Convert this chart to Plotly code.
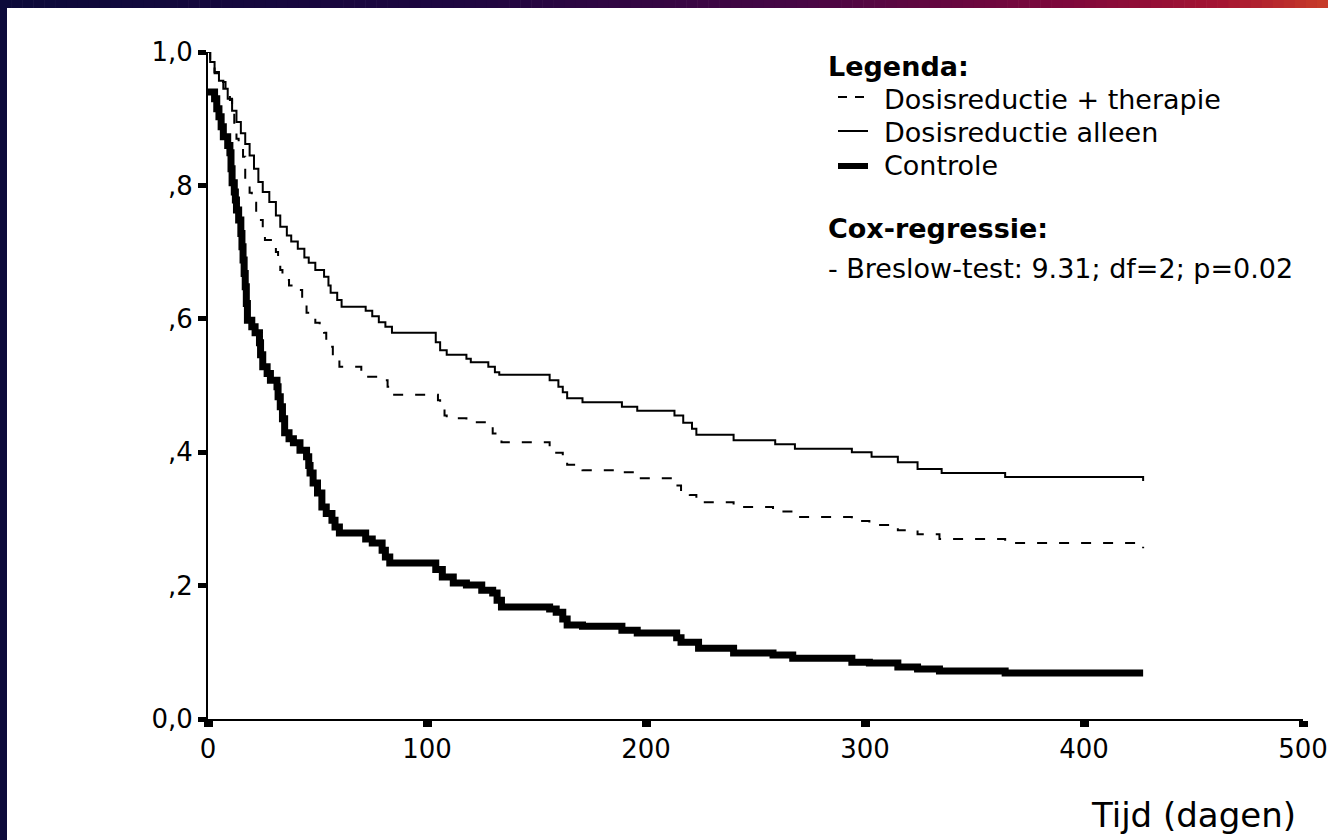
import plotly.graph_objects as go

# ---------------- data ----------------
series_names = ["Dosisreductie + therapie", "Dosisreductie alleen", "Controle"]

therapy_t = [0, 1, 3, 5, 8, 10, 11, 12, 13, 14, 16, 17, 19, 20, 22, 23, 25, 26, 30, 31,
             32, 33, 34, 37, 39, 43, 45, 47, 49, 51, 53, 54, 57, 60, 70, 72, 80, 82, 84,
             105, 106, 108, 109, 118, 127, 130, 132, 134, 156, 159, 162, 164, 171, 188,
             196, 213, 216, 220, 223, 240, 258, 267, 294, 302, 315, 324, 334, 364, 427]
therapy_s = [1.000, 0.985, 0.968, 0.955, 0.945, 0.928, 0.910, 0.888, 0.870, 0.858, 0.843,
             0.804, 0.789, 0.774, 0.760, 0.748, 0.733, 0.718, 0.714, 0.700, 0.688, 0.673,
             0.658, 0.650, 0.643, 0.628, 0.609, 0.601, 0.594, 0.586, 0.579, 0.558, 0.543,
             0.528, 0.518, 0.513, 0.508, 0.498, 0.486, 0.478, 0.466, 0.455, 0.451, 0.445,
             0.438, 0.428, 0.420, 0.415, 0.408, 0.399, 0.390, 0.381, 0.373, 0.370, 0.361,
             0.350, 0.340, 0.336, 0.325, 0.318, 0.311, 0.303, 0.297, 0.291, 0.283, 0.277,
             0.270, 0.264, 0.256]

alone_t = [0, 1, 3, 5, 7, 9, 11, 13, 15, 17, 19, 21, 23, 25, 28, 31, 33, 36, 38, 41, 44,
           46, 49, 53, 55, 56, 59, 61, 72, 75, 78, 81, 84, 104, 106, 109, 118, 120, 128,
           131, 133, 156, 160, 162, 164, 171, 189, 196, 213, 217, 221, 223, 240, 259, 268,
           294, 303, 315, 324, 335, 364, 427]
alone_s = [1.000, 0.985, 0.970, 0.957, 0.945, 0.930, 0.912, 0.895, 0.878, 0.862, 0.845,
           0.825, 0.805, 0.790, 0.775, 0.755, 0.738, 0.725, 0.716, 0.705, 0.692, 0.684,
           0.673, 0.663, 0.650, 0.639, 0.628, 0.618, 0.612, 0.604, 0.595, 0.588, 0.579,
           0.565, 0.553, 0.546, 0.540, 0.535, 0.528, 0.520, 0.516, 0.508, 0.498, 0.490,
           0.481, 0.475, 0.468, 0.462, 0.455, 0.444, 0.435, 0.426, 0.418, 0.412, 0.405,
           0.400, 0.393, 0.385, 0.375, 0.369, 0.363, 0.357]

control_t = [0, 3, 4, 5, 6, 7, 9, 10, 10.5, 11, 12, 12.5, 13, 14, 15, 15.5, 16, 16.5, 17,
             17.5, 18, 20, 21.5, 23.5, 24, 25, 27, 28.5, 31.5, 32, 33, 34, 35, 37, 39, 42,
             45, 46, 46.6, 48, 50, 52, 54, 56.6, 58, 60, 72, 75, 79.5, 81, 83, 104, 107,
             112, 118, 125, 130, 132, 134, 156, 159, 162, 164, 171, 189, 196, 214, 216, 224,
             240, 258, 267, 294, 302, 315, 324, 334, 364, 427]
control_s = [0.940, 0.930, 0.915, 0.903, 0.888, 0.873, 0.860, 0.849, 0.825, 0.804, 0.790,
             0.778, 0.763, 0.748, 0.728, 0.708, 0.688, 0.668, 0.648, 0.623, 0.598, 0.588,
             0.579, 0.564, 0.546, 0.528, 0.518, 0.508, 0.498, 0.483, 0.468, 0.450, 0.429,
             0.420, 0.414, 0.403, 0.393, 0.380, 0.369, 0.354, 0.339, 0.318, 0.308, 0.298,
             0.288, 0.279, 0.270, 0.264, 0.253, 0.243, 0.234, 0.224, 0.213, 0.204, 0.201,
             0.193, 0.189, 0.178, 0.168, 0.165, 0.160, 0.150, 0.141, 0.139, 0.133, 0.129,
             0.122, 0.115, 0.106, 0.099, 0.096, 0.091, 0.085, 0.084, 0.078, 0.075, 0.072,
             0.069, 0.069]

x_tickvals = [0, 100, 200, 300, 400, 500]
x_ticktext = ["0", "100", "200", "300", "400", "500"]
y_tickvals = [0.0, 0.2, 0.4, 0.6, 0.8, 1.0]
y_ticktext = ["0,0", ",2", ",4", ",6", ",8", "1,0"]

x_title = "Tijd (dagen)"
legend_title = "Legenda:"
cox_title = "Cox-regressie:"
cox_text = "- Breslow-test: 9.31; df=2; p=0.02"

# ---------------- figure ----------------
W, H = 1328, 840
ML, MR, MT, MB = 208, 25, 52, 121
FONT = "DejaVu Sans"

line_styles = [dict(shape="hv", color="black", width=2, dash="10px,12px"),
               dict(shape="hv", color="black", width=2),
               dict(shape="hv", color="black", width=7)]

fig = go.Figure()
for name, xs, ys, ls in zip(series_names, [therapy_t, alone_t, control_t],
                            [therapy_s, alone_s, control_s], line_styles):
    fig.add_trace(go.Scatter(x=xs, y=ys, name=name, mode="lines", line=ls,
                             showlegend=False))

pw, ph = W - ML - MR, H - MT - MB


def px_x(px):
    return (px - ML) / pw


def px_y(py):
    return (H - MB - py) / ph


shapes = []
# left dark band
shapes.append(dict(type="rect", xref="paper", yref="paper", x0=px_x(0), x1=px_x(7),
                   y0=px_y(H), y1=px_y(0), line=dict(width=0), fillcolor="rgb(12,10,58)",
                   layer="below"))
# top gradient band
stops = [(0.0, (12, 10, 58)), (0.35, (30, 6, 64)), (0.6, (70, 6, 68)),
         (0.8, (125, 8, 60)), (0.92, (165, 20, 50)), (1.0, (200, 60, 40))]


def interp(f):
    for (a, ca), (b, cb) in zip(stops[:-1], stops[1:]):
        if a <= f <= b:
            t = (f - a) / (b - a) if b > a else 0
            return tuple(int(round(ca[i] + (cb[i] - ca[i]) * t)) for i in range(3))
    return stops[-1][1]


N = 120
for i in range(N):
    f0, f1 = i / N, (i + 1) / N
    c = interp((f0 + f1) / 2)
    shapes.append(dict(type="rect", xref="paper", yref="paper",
                       x0=px_x(f0 * W), x1=px_x(f1 * W + 0.6),
                       y0=px_y(8), y1=px_y(0), line=dict(width=0),
                       fillcolor="rgb(%d,%d,%d)" % c, layer="below"))

# manual legend (symbols + labels)
leg_sym_x0, leg_sym_x1 = 838, 868
leg_text_x = 882
leg_rows_y = [99, 132, 165]
sym_dy = [-2, -1, 1]
sym_styles = [dict(color="black", width=2, dash="9px,8px"),
              dict(color="black", width=2),
              dict(color="black", width=6)]
for yy, dy, st in zip(leg_rows_y, sym_dy, sym_styles):
    shapes.append(dict(type="line", xref="paper", yref="paper",
                       x0=px_x(leg_sym_x0), x1=px_x(leg_sym_x1),
                       y0=px_y(yy + dy), y1=px_y(yy + dy), line=st))

annotations = [
    dict(text=legend_title, xref="paper", yref="paper", x=px_x(826), y=px_y(67),
         xanchor="left", yanchor="middle", showarrow=False,
         font=dict(family=FONT, size=27, color="black", weight="bold")),
]
for name, yy in zip(series_names, leg_rows_y):
    annotations.append(dict(text=name, xref="paper", yref="paper", x=px_x(leg_text_x),
                            y=px_y(yy), xanchor="left", yanchor="middle", showarrow=False,
                            font=dict(family=FONT, size=27, color="black")))
annotations += [
    dict(text=cox_title, xref="paper", yref="paper", x=px_x(826), y=px_y(228),
         xanchor="left", yanchor="middle", showarrow=False,
         font=dict(family=FONT, size=27, color="black", weight="bold")),
    dict(text=cox_text, xref="paper", yref="paper", x=px_x(826), y=px_y(268),
         xanchor="left", yanchor="middle", showarrow=False,
         font=dict(family=FONT, size=27, color="black")),
    dict(text=x_title, xref="paper", yref="paper", x=px_x(1298), y=px_y(815),
         xanchor="right", yanchor="middle", showarrow=False,
         font=dict(family=FONT, size=34, color="black")),
]

fig.update_layout(
    width=W, height=H,
    margin=dict(l=ML, r=MR, t=MT, b=MB, autoexpand=False),
    paper_bgcolor="white", plot_bgcolor="white",
    font=dict(family=FONT, color="black"),
    showlegend=False,
    shapes=shapes,
    annotations=annotations,
)

fig.update_xaxes(range=[0, 500], tickvals=x_tickvals, ticktext=x_ticktext,
                 showline=True, linecolor="black", linewidth=2, showgrid=False,
                 zeroline=False, ticks="outside", ticklen=6, tickwidth=9,
                 tickcolor="black", automargin=False,
                 tickfont=dict(family=FONT, size=26, color="black"))
fig.update_yaxes(range=[0, 1], tickvals=y_tickvals, ticktext=y_ticktext,
                 showline=True, linecolor="black", linewidth=2, showgrid=False,
                 zeroline=False, ticks="outside", ticklen=8, tickwidth=5,
                 tickcolor="black", automargin=False,
                 tickfont=dict(family=FONT, size=26, color="black"))

fig.write_html("out.html", config={"displayModeBar": False},
               post_script="document.body.style.margin='0';")
